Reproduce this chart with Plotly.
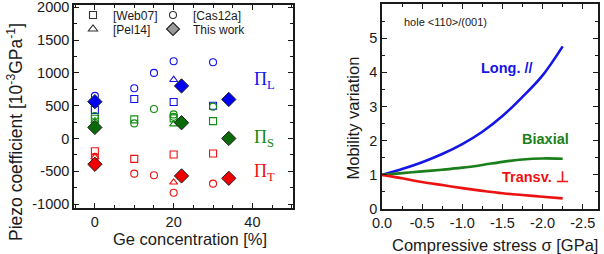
import plotly.graph_objects as go

# ---------------- data: left panel (piezo coefficients, 1e-3 GPa^-1) ----------------
web07_ge = [0, 10, 20, 30]
web07_L = [434, 602, 556, 500]
web07_S = [300, 291, 306, 265]
web07_T = [-195, -311, -245, -230]

cas12a_ge = [0, 10, 15, 20, 30]
cas12a_L = [650, 765, 1000, 1178, 1163]
cas12a_S = [343, 230, 449, 367, 485]
cas12a_T = [-280, -536, -561, -827, -689]
cas12a_S2_ge = [20]
cas12a_S2 = [330]

pel14_ge = [0, 20]
pel14_L = [None, 895]
pel14_S = [265, 219]
pel14_T = [-285, -668]

this_ge = [0, 22, 34]
this_L = [561, 801, 595]
this_S = [168, 240, 0]
this_T = [-393, -571, -607]

left_yticks = [-1000, -500, 0, 500, 1000, 1500, 2000]
left_yticktext = ["-1000", "-500", "0", "500", "1000", "1500", "2000"]
left_xticks = [0, 20, 40]
left_xticktext = ["0", "20", "40"]

# ---------------- data: right panel (mobility variation) ----------------
stress = [0.0, -0.25, -0.5, -0.75, -1.0, -1.25, -1.5, -1.75, -2.0, -2.25]
mob_long = [1.0, 1.17, 1.37, 1.61, 1.90, 2.26, 2.72, 3.28, 3.91, 4.76]
mob_biax = [1.0, 1.05, 1.10, 1.15, 1.21, 1.29, 1.38, 1.45, 1.48, 1.47]
mob_trans = [1.0, 0.90, 0.79, 0.70, 0.61, 0.53, 0.46, 0.41, 0.36, 0.31]

right_xticks = [0.0, -0.5, -1.0, -1.5, -2.0, -2.5]
right_xticktext = ["0.0", "-0.5", "-1.0", "-1.5", "-2.0", "-2.5"]
right_yticks = [0, 1, 2, 3, 4, 5]
right_yticktext = ["0", "1", "2", "3", "4", "5"]

BLUE = "#1010f0"
GREEN = "#108a10"
RED = "#f01010"
DGREEN = "#0a6a0a"
FONT = "Arial, Liberation Sans, sans-serif"
W, H = 604, 254


def px(x):
    return x / W


def py(y):
    return 1 - y / H


fig = go.Figure()

open_size = 7
series = [
    (web07_ge, [web07_L, web07_S, web07_T], "square-open"),
    (cas12a_ge, [cas12a_L, cas12a_S, cas12a_T], "circle-open"),
    (pel14_ge, [pel14_L, pel14_S, pel14_T], "triangle-up-open"),
]
for xs, ys_list, sym in series:
    for ys, col in zip(ys_list, [BLUE, GREEN, RED]):
        fig.add_trace(go.Scatter(x=xs, y=ys, mode="markers", showlegend=False,
                                 marker=dict(symbol=sym, size=open_size, color=col,
                                             line=dict(width=1.1, color=col)),
                                 xaxis="x", yaxis="y"))
fig.add_trace(go.Scatter(x=cas12a_S2_ge, y=cas12a_S2, mode="markers", showlegend=False,
                         marker=dict(symbol="circle-open", size=open_size, color=GREEN,
                                     line=dict(width=1.1, color=GREEN)),
                         xaxis="x", yaxis="y"))
for ys, col in zip([this_L, this_S, this_T], ["#0000ee", DGREEN, "#ee0000"]):
    fig.add_trace(go.Scatter(x=this_ge, y=ys, mode="markers", showlegend=False,
                             marker=dict(symbol="diamond", size=11, color=col,
                                         line=dict(width=1, color="#202020")),
                             xaxis="x", yaxis="y"))

# legend-only entries (four separate legends to reproduce the 2x2 layout)
leg_entries = [
    ("[Web07]", "square-open", 7, "legend", "#333333"),
    ("[Cas12a]", "circle-open", 7, "legend2", "#333333"),
    ("[Pel14]", "triangle-up-open", 8, "legend3", "#333333"),
    ("This work", "diamond", 10, "legend4", "#9a9a9a"),
]
for name, sym, sz, lg, col in leg_entries:
    fig.add_trace(go.Scatter(x=[None], y=[None], mode="markers", name=name, legend=lg,
                             marker=dict(symbol=sym, size=sz, color=col,
                                         line=dict(width=1.1, color="#222222")),
                             xaxis="x", yaxis="y"))

# right panel curves
for ys, col in zip([mob_long, mob_biax, mob_trans], ["#1515e6", "#1a7f1a", "#ee1111"]):
    fig.add_trace(go.Scatter(x=stress, y=ys, mode="lines", showlegend=False,
                             line=dict(color=col, width=2.6, shape="spline", smoothing=1.0),
                             xaxis="x2", yaxis="y2"))

axis_common = dict(showline=True, linecolor="#1a1a1a", linewidth=1.5, mirror="allticks",
                   ticks="inside", ticklen=5, tickwidth=1.2, tickcolor="#1a1a1a",
                   showgrid=False, zeroline=False, automargin=False,
                   ticklabeloverflow="allow",
                   tickfont=dict(family=FONT, size=14.5, color="#1a1a1a"))

legend_common = dict(bgcolor="rgba(0,0,0,0)", borderwidth=0, xanchor="left", yanchor="middle",
                     font=dict(family=FONT, size=12, color="#1a1a1a"), itemwidth=30)

fig.update_layout(
    width=W, height=H, margin=dict(l=0, r=0, t=0, b=0, autoexpand=False),
    paper_bgcolor="white", plot_bgcolor="white",
    xaxis=dict(domain=[px(74), px(293)], range=[-5.3, 50.3], anchor="y",
               tickvals=left_xticks, ticktext=left_xticktext,
               minor=dict(dtick=5, tick0=0, ticks="inside", ticklen=3, tickwidth=1.1, tickcolor="#1a1a1a"),
               **axis_common),
    yaxis=dict(domain=[py(208), py(5)], range=[-1060, 2035], anchor="x",
               tickvals=left_yticks, ticktext=left_yticktext,
               minor=dict(dtick=250, tick0=0, ticks="inside", ticklen=3, tickwidth=1.1, tickcolor="#1a1a1a"),
               **axis_common),
    xaxis2=dict(domain=[px(382), px(598)], range=[0, -2.69], anchor="y2",
                tickvals=right_xticks, ticktext=right_xticktext,
                minor=dict(dtick=0.25, tick0=0, ticks="inside", ticklen=3, tickwidth=1.1, tickcolor="#1a1a1a"),
                **axis_common),
    yaxis2=dict(domain=[py(209), py(4)], range=[0, 6.0], anchor="x2",
                tickvals=right_yticks, ticktext=right_yticktext,
                minor=dict(dtick=0.5, tick0=0, ticks="inside", ticklen=3, tickwidth=1.1, tickcolor="#1a1a1a"),
                **axis_common),
    legend=dict(x=px(73), y=py(15), **legend_common),
    legend2=dict(x=px(153), y=py(15), **legend_common),
    legend3=dict(x=px(73), y=py(29), **legend_common),
    legend4=dict(x=px(153), y=py(29), **legend_common),
)

ann = []
title_font = dict(family=FONT, size=16.5, color="#1a1a1a")
ann.append(dict(text="Piezo coefficient [10<sup>-3</sup>GPa<sup>-1</sup>]", x=px(15), y=py(132),
                xref="paper", yref="paper", showarrow=False, textangle=-90,
                xanchor="center", yanchor="middle", font=dict(family=FONT, size=17.5, color="#1a1a1a")))
ann.append(dict(text="Ge concentration [%]", x=px(190.5), y=py(239), xref="paper", yref="paper",
                showarrow=False, xanchor="center", yanchor="middle", font=title_font))
ann.append(dict(text="Mobility variation", x=px(352), y=py(118.5), xref="paper", yref="paper",
                showarrow=False, textangle=-90, xanchor="center", yanchor="middle", font=title_font))
ann.append(dict(text="Compressive stress σ [GPa]", x=px(494.5), y=py(245), xref="paper", yref="paper",
                showarrow=False, xanchor="center", yanchor="middle", font=title_font))

serif = "Times New Roman, Liberation Serif, serif"
for txt, col, yy in [("Π<sub>L</sub>", BLUE, 80), ("Π<sub>S</sub>", GREEN, 138), ("Π<sub>T</sub>", RED, 172)]:
    ann.append(dict(text=txt, x=px(252), y=py(yy), xref="paper", yref="paper", showarrow=False,
                    xanchor="left", yanchor="middle", font=dict(family=serif, size=18, color=col)))

ann.append(dict(text="hole &lt;110&gt;/(001)", x=px(401.5), y=py(21.7), xref="paper", yref="paper",
                showarrow=False, xanchor="left", yanchor="middle",
                font=dict(family=FONT, size=11, color="#1a1a1a")))
bold = dict(family=FONT, size=14.5)
ann.append(dict(text="<b>Long. //</b>", x=-1.56, y=4.12, xref="x2", yref="y2", showarrow=False,
                xanchor="center", yanchor="middle", font=dict(color="#1515e6", **bold)))
ann.append(dict(text="<b>Biaxial</b>", x=-2.04, y=2.04, xref="x2", yref="y2", showarrow=False,
                xanchor="center", yanchor="middle", font=dict(color="#1a7f1a", **bold)))
ann.append(dict(text="<b>Transv. ⊥</b>", x=-1.91, y=0.95, xref="x2", yref="y2", showarrow=False,
                xanchor="center", yanchor="middle", font=dict(color="#ee1111", **bold)))
fig.update_layout(annotations=ann)

fig.write_html("out.html")
